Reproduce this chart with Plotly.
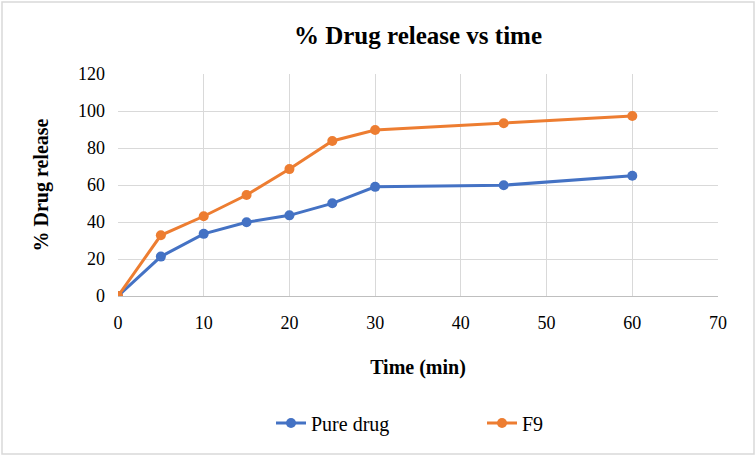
import plotly.graph_objects as go

time_min = [0, 5, 10, 15, 20, 25, 30, 45, 60]
pure_drug = [0, 21.3, 33.6, 39.9, 43.6, 50.1, 59.0, 59.9, 65.0]
f9 = [0, 32.8, 43.1, 54.6, 68.6, 83.8, 89.7, 93.4, 97.3]

FONT = "Liberation Serif"
W, H = 756, 456
L, R, T, B = 118, 38, 74, 160
pw, ph = W - L - R, H - T - B

fig = go.Figure()
fig.add_trace(go.Scatter(x=time_min, y=pure_drug, name="Pure drug", mode="lines+markers",
                         line=dict(color="#4472C4", width=3), marker=dict(size=10, color="#4472C4")))
fig.add_trace(go.Scatter(x=time_min, y=f9, name="F9", mode="lines+markers",
                         line=dict(color="#ED7D31", width=3), marker=dict(size=10, color="#ED7D31")))

fig.update_layout(
    width=W, height=H,
    margin=dict(l=L, r=R, t=T, b=B, autoexpand=False),
    paper_bgcolor="white", plot_bgcolor="white",
    font=dict(family=FONT, size=18, color="#000000"),
    title=dict(text="<b>% Drug release vs time</b>", x=(L + pw / 2) / W, xanchor="center",
               y=1 - 35 / H, yanchor="middle", font=dict(size=25, family=FONT)),
    xaxis=dict(range=[0, 70], dtick=10, showgrid=True, gridcolor="#d9d9d9", gridwidth=1,
               showline=True, linecolor="#bfbfbf", linewidth=1, zeroline=False,
               ticks="", tickfont=dict(size=18, family=FONT), ticklabelstandoff=10,
               title=dict(text="<b>Time (min)</b>", font=dict(size=20, family=FONT), standoff=28)),
    yaxis=dict(range=[0, 120], dtick=20, showgrid=True, gridcolor="#d9d9d9", gridwidth=1,
               zeroline=False, showline=False, ticks="", tickfont=dict(size=18, family=FONT),
               ticklabelstandoff=12,
               title=dict(text="<b>% Drug release</b>", font=dict(size=20, family=FONT), standoff=24)),
    legend=dict(orientation="h", xref="container", yref="container",
                x=271 / W, xanchor="left", y=1 - 423 / H,
                yanchor="middle", font=dict(size=20, family=FONT),
                entrywidth=166, entrywidthmode="pixels"),
    showlegend=True,
)
# figure border
fig.add_shape(type="rect", xref="paper", yref="paper",
              x0=-(L - 2) / pw, x1=1 + (R - 2) / pw,
              y0=-(B - 2) / ph, y1=1 + (T - 2) / ph,
              line=dict(color="#d9d9d9", width=1.5), layer="below")
fig.write_html("out.html", post_script="document.body.style.margin='0';",
               config={"displayModeBar": False})
